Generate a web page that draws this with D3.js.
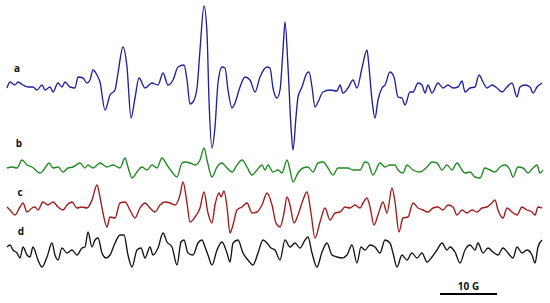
<!DOCTYPE html>
<html>
<head>
<meta charset="utf-8">
<script src="https://cdn.jsdelivr.net/npm/d3@7"></script>
<style>
  html, body { margin: 0; padding: 0; background: #fff; }
  svg { display: block; }
</style>
</head>
<body>
<svg id="chart" width="550" height="303"></svg>
<script>
// ---- Data (magnetic field position in arbitrary units, relative EPR intensity) ----
const traceLabels = ["a", "b", "c", "d"];

const fieldA = [7,10,15,18,23,28,33,37,42,45,50,53,58,62,65,70,75,78,83,87,90,93,97,100,105,110,115,118,123,127,131,135,139,145,152,158,163,168,173,178,184,187,190,193,197,200,204,207,209,212,215,218,222,225,228,232,235,240,245,250,255,260,267,270,273,277,280,283,285,288,291,293,296,298,302,307,309,312,315,318,323,330,337,340,343,348,353,357,362,367,369,372,375,378,382,385,390,394,398,402,405,410,413,418,422,425,428,432,438,443,448,453,458,462,465,470,475,479,483,487,492,497,502,507,512,517,520,525,530,533,537,542];
const intensityA = [-1,5,2,5,2,0,0,-3,2,-3,0,-5,4,0,5,0,-1,10,9,4,7,17,12,5,-23,-8,-3,14,40,20,-31,-11,9,-1,4,2,14,2,7,20,22,7,-17,-15,-1,37,81,54,-13,-61,-40,4,20,19,-3,-21,-16,0,10,7,-5,10,20,19,-1,-11,-3,37,65,20,-40,-63,-30,-10,0,14,15,0,-20,-15,-5,-3,-4,2,-6,-1,7,-1,19,37,20,-13,-31,-13,-1,2,15,10,-10,-11,-18,-5,-5,4,2,-6,2,-6,4,-1,2,-1,0,6,-5,-1,0,12,5,-1,2,-1,-5,0,4,-10,0,2,0,-6,0,4];

const fieldB = [7,12,17,22,27,32,40,45,49,53,58,63,68,73,80,85,88,93,100,107,113,120,125,128,132,137,142,147,152,157,162,167,172,177,182,185,190,195,200,204,207,212,217,222,227,232,237,242,247,252,257,262,265,268,273,278,282,287,290,293,298,303,308,313,318,323,328,333,338,343,348,353,360,365,368,373,380,385,390,395,398,403,407,413,420,427,432,437,442,447,452,457,462,465,470,475,480,485,490,495,500,505,510,513,518,523,528,533,537,540,543];
const intensityB = [0,1,0,8,3,1,-5,0,5,0,1,-4,0,1,5,0,3,0,5,1,3,0,10,1,-10,-4,1,-2,3,0,10,3,-4,-9,5,6,5,3,8,20,8,-9,1,5,0,-4,3,8,1,-7,-2,3,-2,3,-4,-2,-5,8,-2,-14,-5,0,1,-4,5,6,0,-7,0,0,0,-2,-2,6,5,-7,5,1,3,3,-2,-5,3,-2,-4,1,6,5,-2,3,-2,5,-2,-5,-4,-9,-10,0,-2,-4,1,3,-2,-9,1,0,-5,0,3,-5,-2];

const fieldC = [7,10,15,20,23,27,32,35,38,43,48,53,58,63,67,72,77,82,87,92,97,100,103,107,110,115,120,125,130,135,140,145,150,155,160,165,170,175,180,183,187,190,195,200,204,208,212,215,219,221,224,227,230,233,237,242,247,252,257,262,267,272,276,280,284,287,290,294,298,303,307,311,315,320,325,330,335,340,345,350,355,360,363,367,370,374,378,383,387,392,395,399,403,408,413,418,423,428,433,438,443,448,453,457,462,467,472,477,482,487,492,495,498,503,507,512,517,522,527,532,535,538,542];
const intensityC = [0,-3,-8,0,4,-5,-1,0,-3,5,2,5,0,-3,2,5,-1,0,-1,7,22,10,-6,-20,-10,-11,4,5,-3,-11,-1,4,-1,-5,2,5,4,2,12,25,4,-15,-10,-1,15,-6,-16,2,14,10,16,0,-26,-18,-3,0,4,-6,-5,2,14,2,-16,-20,-6,10,2,-16,-8,7,15,-6,-31,-15,-1,-13,-6,-5,0,-1,2,-1,4,9,0,-18,-8,5,-6,19,5,-25,-11,-10,4,-1,-3,-5,-1,0,-3,2,0,-8,-3,-6,-3,-5,-1,0,4,7,-3,-11,-1,-5,-8,0,-3,-5,-8,0,-1];

const fieldD = [7,10,13,17,20,23,27,30,33,38,42,47,52,55,58,62,67,72,77,82,85,88,92,95,98,102,106,110,115,120,124,128,132,137,141,145,150,153,158,163,167,172,177,181,184,188,193,198,202,205,208,212,217,222,227,230,233,238,243,248,253,258,263,267,271,275,280,285,290,295,300,305,308,312,317,322,327,332,337,342,347,352,357,361,365,370,375,380,385,390,393,397,402,407,412,417,422,427,432,437,442,447,450,455,460,465,470,475,478,483,488,493,498,503,508,513,517,522,527,532,535,538,542];
const intensityD = [3,5,0,-3,-8,3,-5,-7,3,-10,-17,-7,7,-5,-10,2,-3,0,-5,2,3,18,3,10,12,-3,-8,-5,7,15,15,-5,-17,0,2,-8,3,-5,2,17,8,3,-15,8,10,-3,-5,7,10,3,-5,-15,0,8,-3,-12,7,10,-3,-10,-15,-3,10,7,2,0,-10,10,3,7,2,10,13,-3,-17,-2,7,-5,-7,-8,-5,5,-13,3,0,5,3,-3,10,7,-3,-17,-5,-10,-3,-8,-3,-12,-7,0,7,0,3,-2,-13,0,5,0,7,-3,2,-2,-5,2,-3,-8,3,-3,0,-5,-13,3,10];

const scaleBarLabel = "10 G";
const scaleBarField = 57; // length of 10 G in field units

// ---- Drawing ----
const svg = d3.select("#chart");
const W = 550, H = 303;

const x = d3.scaleLinear().domain([0, 550]).range([0, W]);
const y = d3.scaleLinear().domain([-100, 100]).range([100, -100]);

const traces = [
  { label: traceLabels[0], field: fieldA, inten: intensityA, base: 87,  color: "#2020a0", lx: 17, ly: 72 },
  { label: traceLabels[1], field: fieldB, inten: intensityB, base: 168, color: "#1e8a1e", lx: 19, ly: 147 },
  { label: traceLabels[2], field: fieldC, inten: intensityC, base: 207, color: "#a31818", lx: 20, ly: 196 },
  { label: traceLabels[3], field: fieldD, inten: intensityD, base: 250, color: "#141414", lx: 21, ly: 235 }
];

const line = d3.line()
  .x(d => x(d[0]))
  .y(d => y(d[1]))
  .curve(d3.curveMonotoneX);

traces.forEach(t => {
  const pts = t.field.map((f, i) => [f, t.inten[i]]);
  const g = svg.append("g").attr("transform", `translate(0,${t.base})`);
  g.append("path")
    .datum(pts)
    .attr("fill", "none")
    .attr("stroke", t.color)
    .attr("stroke-width", 1.35)
    .attr("stroke-linejoin", "round")
    .attr("d", line);
  svg.append("text")
    .attr("x", t.lx)
    .attr("y", t.ly)
    .attr("text-anchor", "middle")
    .attr("font-family", "'Open Sans', 'Liberation Sans', sans-serif")
    .attr("font-weight", "bold")
    .attr("font-size", 10)
    .attr("fill", "#111")
    .text(t.label);
});

// scale bar
const barX0 = 440;
svg.append("line")
  .attr("x1", x(barX0)).attr("x2", x(barX0 + scaleBarField))
  .attr("y1", 294).attr("y2", 294)
  .attr("stroke", "#000").attr("stroke-width", 2);
svg.append("text")
  .attr("x", x(barX0 + scaleBarField / 2))
  .attr("y", 290)
  .attr("text-anchor", "middle")
  .attr("font-family", "'Open Sans', 'Liberation Sans', sans-serif")
  .attr("font-weight", "bold")
  .attr("font-size", 10)
  .attr("fill", "#111")
  .text(scaleBarLabel);
</script>
</body>
</html>
